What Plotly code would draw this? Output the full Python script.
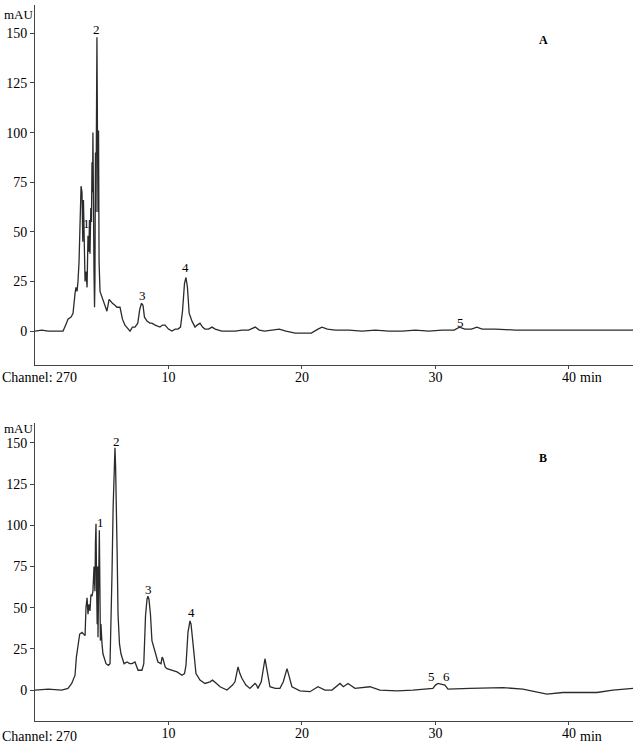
import plotly.graph_objects as go

# Chromatogram A (time in min, absorbance in mAU)
time_a = [0, 0.5, 1.0, 1.5, 2.1, 2.3, 2.47, 2.7, 2.85, 3.0, 3.07, 3.15, 3.22, 3.3, 3.37, 3.45,
          3.52, 3.58, 3.63, 3.68, 3.75, 3.82, 3.9, 3.97, 4.04, 4.08, 4.12, 4.18, 4.23, 4.27,
          4.31, 4.34, 4.38, 4.42, 4.46, 4.49, 4.53, 4.57, 4.6, 4.64, 4.68, 4.72, 4.76, 4.8,
          4.87, 5.02, 5.24, 5.39, 5.55, 5.65, 5.8, 5.99, 6.14, 6.37, 6.55, 6.74, 6.95, 7.12,
          7.3, 7.49, 7.7, 7.85, 7.98, 8.09, 8.2, 8.39, 8.6, 8.76, 9.0, 9.36, 9.55, 9.74, 10.0,
          10.26, 10.5, 10.71, 10.9, 11.05, 11.2, 11.31, 11.42, 11.55, 11.76, 11.99, 12.15,
          12.36, 12.55, 12.73, 13.0, 13.26, 13.5, 13.71, 14.0, 14.5, 15.0, 15.5, 16.0, 16.5,
          16.8, 17.2, 17.7, 18.3, 18.8, 19.5, 20.0, 20.7, 21.2, 21.5, 21.9, 22.5, 23.5, 24.5,
          25.5, 26.5, 27.5, 28.5, 29.5, 30.5, 31.4, 31.8, 32.2, 32.7, 33.1, 33.5, 34.5, 36,
          38, 40, 42, 44.8]
mau_a = [0, 0.5, 0, 0, 0, 3, 6, 7, 9, 19, 22, 20, 25, 35, 48, 73,
         70, 45, 66, 38, 25, 30, 22, 48, 40, 56, 39, 62, 55, 85,
         70, 100, 40, 30, 12, 25, 90, 60, 100, 148, 100, 60, 101, 35,
         20, 17, 12, 10, 16, 15, 14, 13, 12, 12, 6, 3, 1, 0,
         2, 2, 4, 11, 14, 13, 7, 5, 4, 4, 3, 2, 3, 3, 1,
         0, 1, 1, 2, 10, 24, 27, 22, 9, 5, 2, 3,
         4, 2, 1, 1, 2, 1, 0.5, 0, 0, 0, 0.5, 0.5, 2,
         0.5, 0, 0.5, 1, 0, -1, -1, -1, 1, 2, 1, 0.5, 0.5, 0,
         0.5, 0, 0, 0.5, 0, 0.5, 0.5, 2, 1, 1, 2, 1, 1, 0.5,
         0.5, 0.5, 0.5, 0.5]

# Chromatogram B
time_b = [0, 1.0, 2.0, 2.47, 2.75, 3.0, 3.1, 3.22, 3.35, 3.52, 3.65, 3.75, 3.82, 3.9, 3.97,
          4.04, 4.12, 4.19, 4.27, 4.34, 4.42, 4.49, 4.53, 4.57, 4.62, 4.66, 4.7, 4.72, 4.76,
          4.82, 4.87, 4.9, 4.94, 5.02, 5.09, 5.32, 5.5, 5.62, 5.7, 5.77, 5.85, 5.92, 5.99,
          6.04, 6.1, 6.16, 6.22, 6.33, 6.44, 6.67, 6.89, 7.1, 7.27, 7.49, 7.72, 8.01, 8.15,
          8.28, 8.39, 8.46, 8.54, 8.65, 8.76, 8.91, 9.05, 9.21, 9.44, 9.52, 9.59, 9.75, 9.89,
          10.26, 10.64, 11.01, 11.2, 11.31, 11.46, 11.61, 11.69, 11.84, 12.06, 12.36, 12.73,
          13.11, 13.3, 13.6, 13.86, 14.38, 14.8, 14.98, 15.21, 15.35, 15.51, 15.8, 16.1,
          16.48, 16.6, 16.7, 16.95, 17.23, 17.4, 17.6, 18.0, 18.35, 18.6, 18.88, 19.05,
          19.25, 19.85, 20.6, 21.2, 21.72, 22.25, 22.85, 23.1, 23.45, 23.97, 25.09, 25.84,
          27.12, 28.31, 29.81, 30.0, 30.19, 30.71, 30.94, 32.58, 35.06, 36.55, 38.35, 39.55,
          42.1, 43.3, 44.8]
mau_b = [0, 0.5, 0, 1, 4, 9, 20, 28, 34, 35, 34, 33, 50, 56, 46,
         52, 48, 58, 57, 60, 75, 60, 90, 101, 60, 40, 75, 32, 60,
         97, 55, 30, 40, 28, 22, 16, 15, 16, 40, 71, 110, 130, 147,
         135, 113, 80, 46, 28, 22, 16, 17, 16, 16, 17, 12, 12, 16,
         45, 55, 57, 55, 46, 30, 26, 21, 17, 16, 20, 19, 14, 13,
         12, 11, 9, 10, 15, 35, 42, 40, 28, 10, 6, 4,
         5, 6, 4, 2, 0, 3, 5, 14, 10, 7, 3, 1,
         4, 3, 1, 5, 19, 10, 2, 1, 1, 5, 13, 8,
         2, -0.5, -1, 2, 0, 0, 4, 2, 4, 1, 2, 0,
         -0.5, 0, 1, 3, 4, 3, 0.5, 1, 1.5, 0.5, -2.5, -1.5,
         -1.5, 0, 1]

# Peak labels
peaks_a_text = ["1", "2", "3", "4", "5"]
peaks_a_t = [3.83, 4.62, 8.09, 11.31, 31.9]
peaks_a_y = [54, 152, 18, 32, 4.5]
peaks_b_text = ["1", "2", "3", "4", "5", "6"]
peaks_b_t = [4.87, 6.07, 8.5, 11.69, 29.7, 30.85]
peaks_b_y = [102, 151, 61, 47, 8, 8]

x_ticks = [10, 20, 30, 40]
x_ticktext = ["10", "20", "30", "40"]
y_ticks = [0, 25, 50, 75, 100, 125, 150]

W, H = 641, 749
SERIF = "Liberation Serif, Times New Roman, serif"
INK = "#2b2b2b"
TXT = "#000000"

fig = go.Figure()
fig.add_trace(go.Scatter(x=time_a, y=mau_a, mode="lines", xaxis="x", yaxis="y",
                         line=dict(color=INK, width=1.3), showlegend=False, hoverinfo="skip"))
fig.add_trace(go.Scatter(x=time_b, y=mau_b, mode="lines", xaxis="x2", yaxis="y2",
                         line=dict(color=INK, width=1.3), showlegend=False, hoverinfo="skip"))

x_dom = [35 / W, 633 / W]
common_x = dict(range=[0, 44.8], domain=x_dom, showline=True, linecolor="#444", linewidth=1,
                ticks="outside", ticklen=3, tickcolor="#444", tickvals=x_ticks,
                ticktext=x_ticktext, showgrid=False, zeroline=False, ticklabelstandoff=-4,
                tickfont=dict(family=SERIF, size=14, color=TXT))
common_y = dict(showline=True, linecolor="#444", linewidth=1, ticks="outside", ticklen=4,
                tickcolor="#444", tickvals=y_ticks, showgrid=False, zeroline=False,
                tickfont=dict(family=SERIF, size=14, color=TXT))

fig.update_layout(
    width=W, height=H, margin=dict(l=0, r=0, t=0, b=0),
    paper_bgcolor="white", plot_bgcolor="white",
    xaxis=dict(**common_x, anchor="y"),
    yaxis=dict(**common_y, anchor="x", domain=[1 - 365 / H, 1 - 5 / H], range=[-17.1, 164.3]),
    xaxis2=dict(**common_x, anchor="y2"),
    yaxis2=dict(**common_y, anchor="x2", domain=[1 - 721 / H, 1 - 423 / H], range=[-18.8, 162.1]),
)

ann = []
for txt, t, v in zip(peaks_a_text, peaks_a_t, peaks_a_y):
    ann.append(dict(x=t, y=v, xref="x", yref="y", text=txt, showarrow=False,
                    font=dict(family=SERIF, size=13, color=TXT)))
for txt, t, v in zip(peaks_b_text, peaks_b_t, peaks_b_y):
    ann.append(dict(x=t, y=v, xref="x2", yref="y2", text=txt, showarrow=False,
                    font=dict(family=SERIF, size=13, color=TXT)))
for ytop, lab_y in [(14, 378), (428, 736)]:
    ann.append(dict(x=2 / W, y=1 - ytop / H, xref="paper", yref="paper", text="mAU",
                    showarrow=False, xanchor="left", yanchor="middle",
                    font=dict(family=SERIF, size=13, color=TXT)))
    ann.append(dict(x=0 / W, y=1 - lab_y / H, xref="paper", yref="paper", text="Channel: 270",
                    showarrow=False, xanchor="left", yanchor="middle",
                    font=dict(family=SERIF, size=14, color=TXT)))
    ann.append(dict(x=(569 + 9) / W, y=1 - lab_y / H, xref="paper", yref="paper", text="min",
                    showarrow=False, xanchor="left", yanchor="middle",
                    font=dict(family=SERIF, size=14, color=TXT)))
for letter, ly in [("A", 40), ("B", 458)]:
    ann.append(dict(x=543 / W, y=1 - ly / H, xref="paper", yref="paper", text="<b>%s</b>" % letter,
                    showarrow=False, xanchor="center", yanchor="middle",
                    font=dict(family=SERIF, size=12, color=TXT)))
fig.update_layout(annotations=ann)

fig.write_html("out.html", config={"displayModeBar": False},
               post_script="document.body.style.margin='0';document.body.style.overflow='hidden';")
